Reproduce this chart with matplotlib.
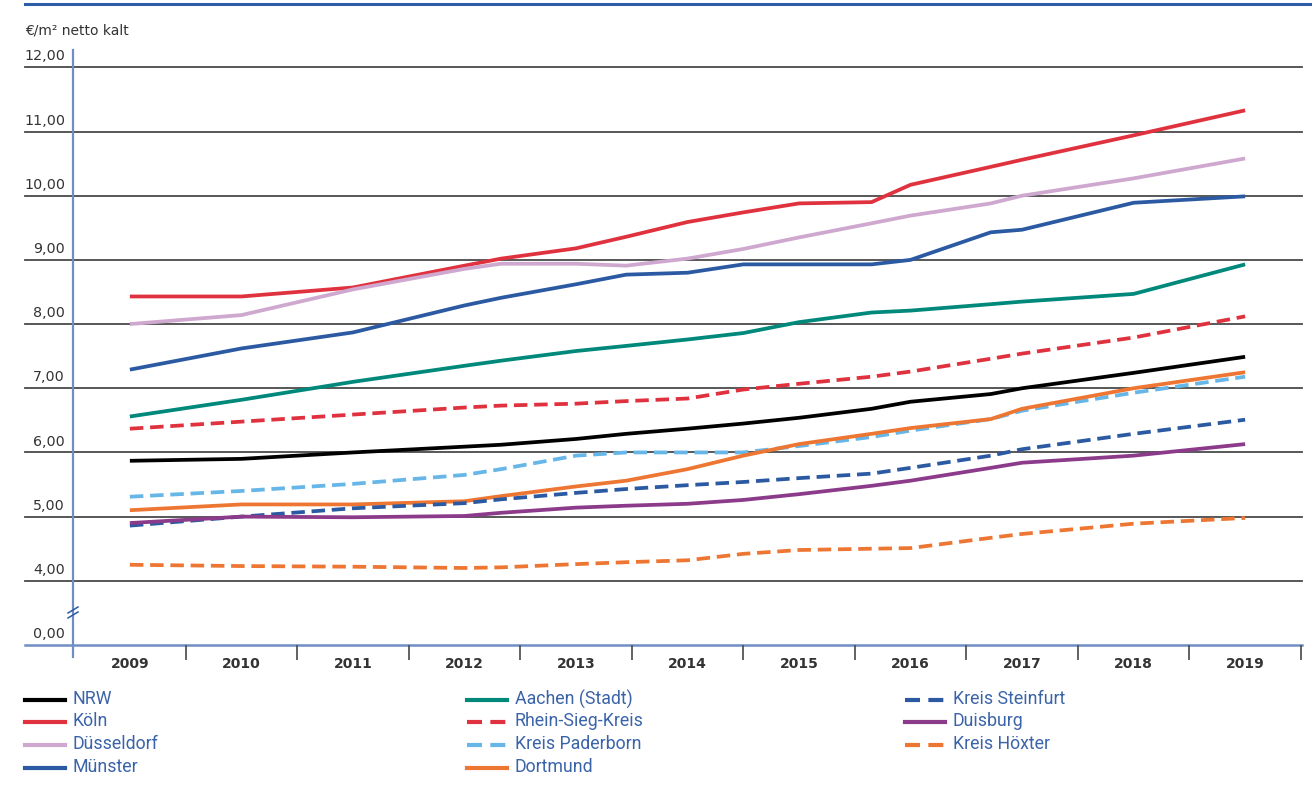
import matplotlib
matplotlib.use("Agg")
import matplotlib.pyplot as plt
from matplotlib.lines import Line2D
from matplotlib.transforms import blended_transform_factory

# x positions of the data points (in years)
x_pts = [2009, 2010, 2011, 2012, 2012.33, 2013, 2013.45, 2014, 2014.5, 2015,
         2015.65, 2016, 2016.72, 2017, 2018, 2019]
years = list(range(2009, 2020))

# Euro / m2 netto kalt
nrw        = [5.87, 5.90, 6.00, 6.09, 6.12, 6.21, 6.29, 6.37, 6.45, 6.54, 6.68, 6.79, 6.91, 7.00, 7.24, 7.49]
koeln      = [8.43, 8.43, 8.57, 8.91, 9.02, 9.18, 9.36, 9.59, 9.74, 9.88, 9.90, 10.17, 10.45, 10.56, 10.94, 11.33]
duesseldorf = [8.00, 8.14, 8.54, 8.86, 8.94, 8.94, 8.91, 9.02, 9.17, 9.35, 9.57, 9.69, 9.88, 10.00, 10.27, 10.58]
muenster   = [7.29, 7.62, 7.87, 8.29, 8.41, 8.62, 8.77, 8.80, 8.93, 8.93, 8.93, 9.00, 9.43, 9.47, 9.89, 9.99]
aachen     = [6.56, 6.82, 7.10, 7.35, 7.43, 7.58, 7.66, 7.76, 7.86, 8.03, 8.18, 8.21, 8.31, 8.35, 8.47, 8.93]
rhein_sieg = [6.37, 6.48, 6.59, 6.70, 6.73, 6.76, 6.80, 6.84, 6.98, 7.07, 7.18, 7.26, 7.46, 7.54, 7.79, 8.12]
paderborn  = [5.31, 5.40, 5.51, 5.65, 5.74, 5.95, 6.00, 6.00, 6.00, 6.10, 6.24, 6.34, 6.52, 6.65, 6.93, 7.18]
dortmund   = [5.10, 5.19, 5.19, 5.24, 5.32, 5.47, 5.56, 5.74, 5.95, 6.13, 6.29, 6.38, 6.52, 6.68, 7.00, 7.25]
steinfurt  = [4.86, 5.00, 5.13, 5.21, 5.27, 5.37, 5.43, 5.49, 5.54, 5.60, 5.67, 5.76, 5.95, 6.05, 6.29, 6.51]
duisburg   = [4.90, 5.00, 4.99, 5.01, 5.06, 5.14, 5.17, 5.20, 5.26, 5.35, 5.48, 5.56, 5.76, 5.84, 5.95, 6.13]
hoexter    = [4.25, 4.23, 4.22, 4.20, 4.21, 4.26, 4.29, 4.32, 4.42, 4.48, 4.50, 4.51, 4.67, 4.73, 4.89, 4.98]

names = ["NRW", "Köln", "Düsseldorf", "Münster", "Aachen (Stadt)", "Rhein-Sieg-Kreis",
         "Kreis Paderborn", "Dortmund", "Kreis Steinfurt", "Duisburg", "Kreis Höxter"]
series = [nrw, koeln, duesseldorf, muenster, aachen, rhein_sieg,
          paderborn, dortmund, steinfurt, duisburg, hoexter]
colors = ["#000000", "#E0323E", "#CFA8CF", "#2B5AA3", "#00897A", "#E0323E",
          "#66B6E8", "#EE7633", "#2B5AA3", "#8C3A8A", "#EE7633"]
dashed = [False, False, False, False, False, True, True, False, True, False, True]

ytick_vals = [4, 5, 6, 7, 8, 9, 10, 11, 12]
ytick_labels = ["4,00", "5,00", "6,00", "7,00", "8,00", "9,00", "10,00", "11,00", "12,00"]
zero_pos = 3  # position where the "0,00" line sits (axis break)

W, H = 1312, 793
fig = plt.figure(figsize=(W / 100, H / 100), dpi=100)
ax = fig.add_axes([73 / W, (H - 645) / H, (1302 - 73) / W, (645 - 50) / H])
ax.set_xlim(2008.49, 2019.51)
ax.set_ylim(zero_pos, 12.27)
for s in ax.spines.values():
    s.set_visible(False)

grid_left = -(73 - 25) / (1302 - 73)
for v in ytick_vals:
    ax.axhline(v, xmin=grid_left, xmax=1, color="#4a4a4a", lw=1.3, clip_on=False, zorder=1)
# bottom axis line
ax.axhline(zero_pos, xmin=grid_left, xmax=1, color="#6F8FC4", lw=1.8, clip_on=False, zorder=1)
# y axis line
ax.plot([0, 0], [-12 / 595, 1], transform=ax.transAxes, color="#6F8FC4", lw=1.6,
        clip_on=False, zorder=2)
# break marks on the y axis
for dy in (0, 5):
    yy = H - (612 + dy - 2)
    ax.add_line(Line2D([68, 78], [yy - 3, yy + 3], transform=None, color="#2B5AA3",
                       lw=1.1, zorder=4, clip_on=False))

# y labels
trans = blended_transform_factory(fig.transFigure, ax.transData)
for v, lab in zip([zero_pos] + ytick_vals, ["0,00"] + ytick_labels):
    ax.text(65 / W, v + 0.06, lab, transform=trans, ha="right", va="bottom",
            fontsize=10.3, color="#333333")

# x ticks: boundaries between years, labels at year centres
ax.set_xticks([y + 0.5 for y in years])
ax.set_xticklabels([])
ax.tick_params(axis="x", direction="out", length=11, width=1.3, color="#555555")
ax.set_xticks(years, minor=True)
ax.set_xticklabels([str(y) for y in years], minor=True, fontsize=10,
                   fontweight="bold", color="#333333")
ax.tick_params(axis="x", which="minor", length=0, pad=9)
ax.set_yticks([])

for vals, c, d in zip(series, colors, dashed):
    ls = (0, (3.6, 1.8)) if d else "-"
    ax.plot(x_pts, vals, color=c, lw=2.7, linestyle=ls, zorder=5,
            solid_joinstyle="round", solid_capstyle="butt")

# unit label and top rule
fig.text(25 / W, 1 - 30 / H, "€/m² netto kalt", fontsize=10, color="#333333",
         va="center", ha="left")
fig.add_artist(Line2D([25 / W, 1], [1 - 4 / H] * 2, color="#2E5DA8", lw=2.2))

# legend
col_x = [25, 467, 905]
row_y = [700, 722, 745, 768]
for i, (name, c, d) in enumerate(zip(names, colors, dashed)):
    cx, ry = col_x[i // 4], row_y[i % 4]
    ls = (0, (3.6, 2.0)) if d else "-"
    fig.add_artist(Line2D([cx / W, (cx + 40) / W], [1 - ry / H] * 2, color=c, lw=3,
                          linestyle=ls))
    fig.text((cx + 48) / W, 1 - (ry - 1) / H, name, fontsize=12.8, color="#3B64A8",
             family="Roboto", va="center", ha="left")

fig.savefig("out.png", dpi=100)
